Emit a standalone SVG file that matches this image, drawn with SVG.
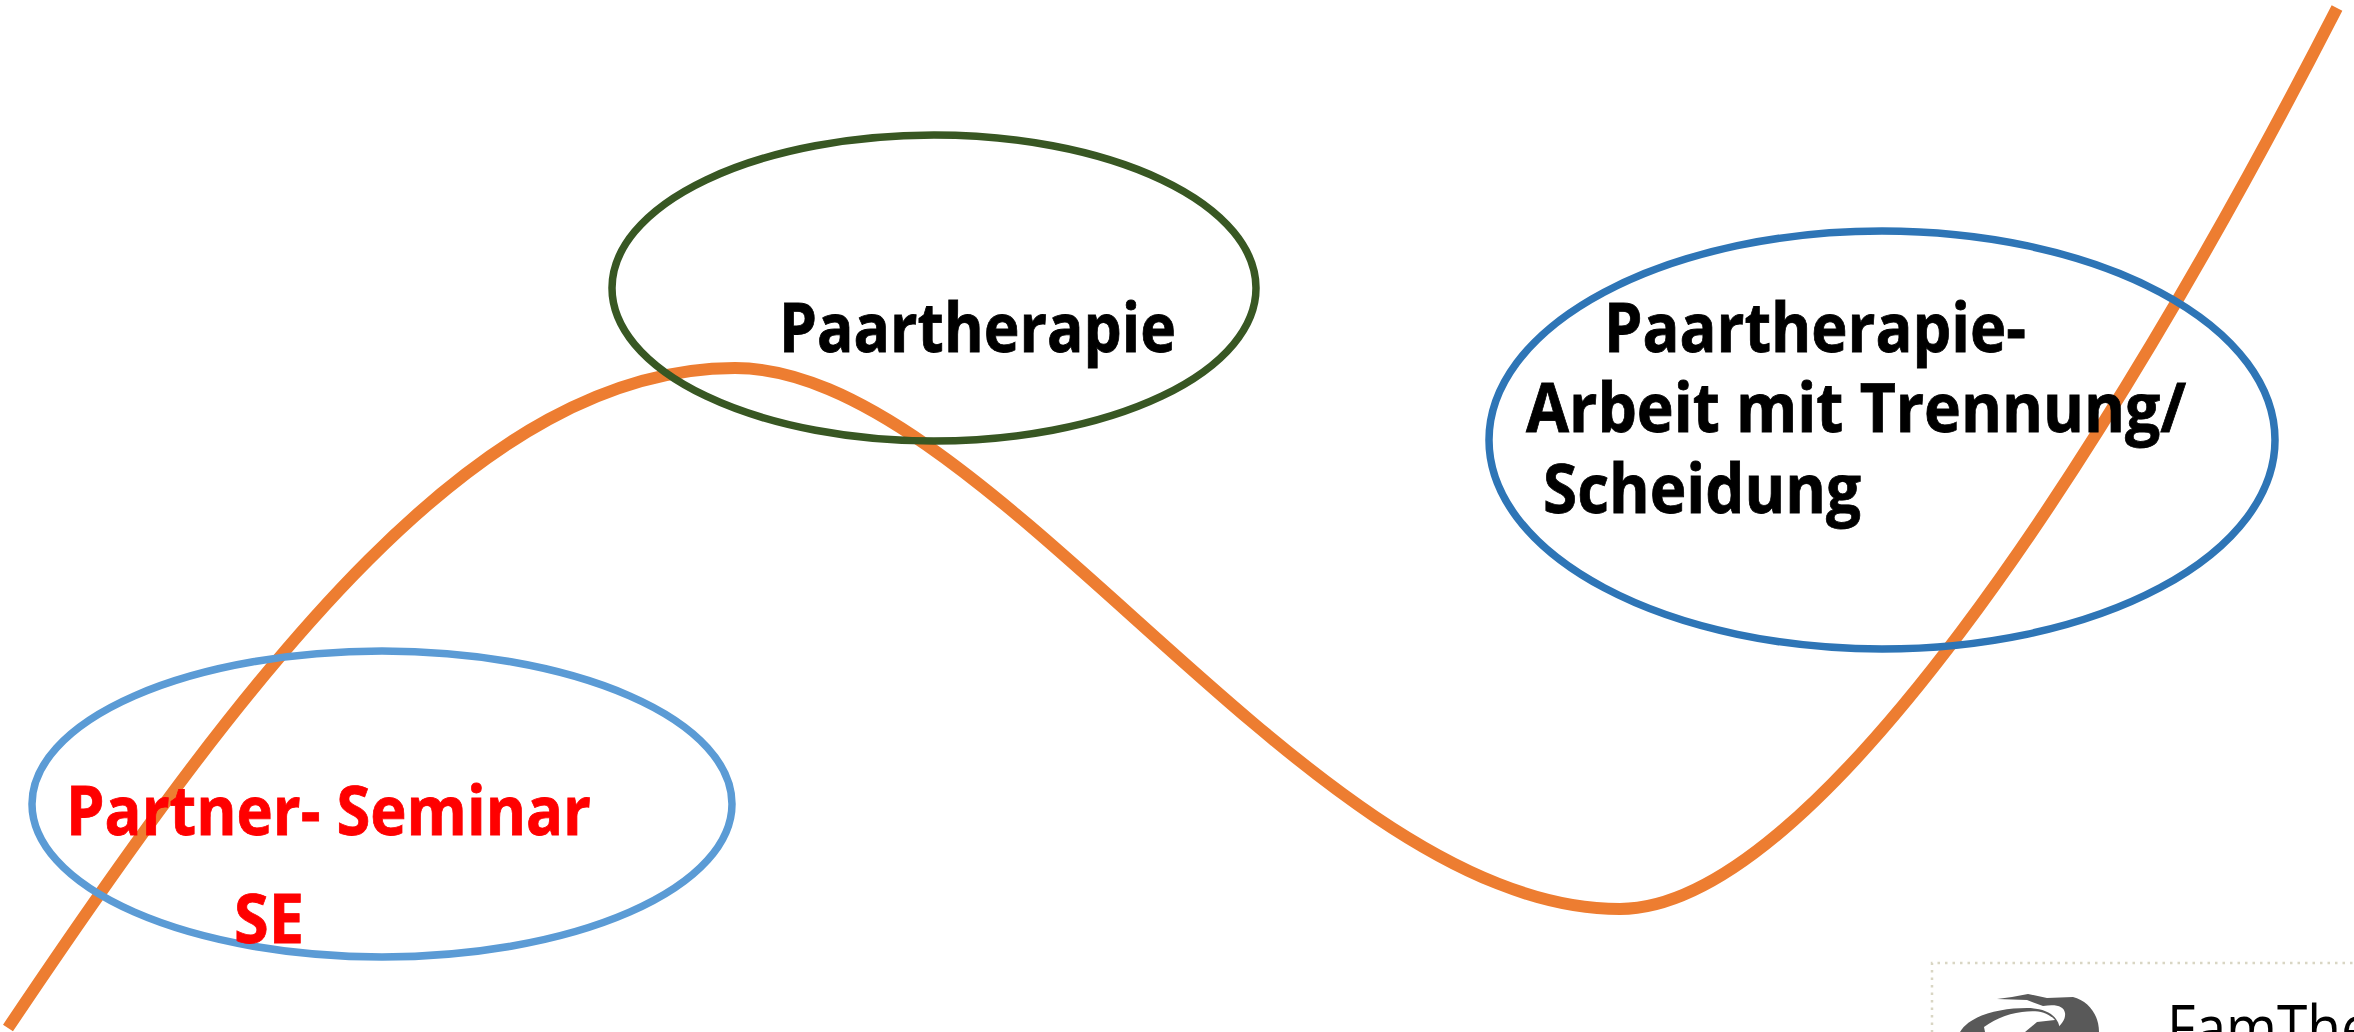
<svg xmlns="http://www.w3.org/2000/svg" width="2354" height="1032" viewBox="0 0 2354 1032">
<style>
.e{fill:none;stroke-width:7.5}
.t{font-family:"Open Sans","Noto Sans",sans-serif;font-weight:700;font-size:68px;fill:#000;stroke:#000;stroke-width:.8}
.r{fill:#f00;stroke:#f00}
.g{fill:#595959}
</style>
<rect width="2354" height="1032" fill="#fff"/>
<g id="connectors"><path d="M8 1028C255 660 480 368 735 368C990 368 1310 909 1620 909C1810 909 2100 470 2337 8" fill="none" stroke="#ED7D31" stroke-width="12"/></g>
<g id="node-partner"><ellipse class="e" cx="382" cy="804" rx="350" ry="153" stroke="#5B9BD5"/>
<text class="t r" x="66" y="835" textLength="525" lengthAdjust="spacingAndGlyphs">Partner- Seminar</text>
<text class="t r" x="234" y="943" textLength="70" lengthAdjust="spacingAndGlyphs">SE</text></g>
<g id="node-paartherapie"><ellipse class="e" cx="934" cy="288" rx="322" ry="153" stroke="#385723"/>
<text class="t" x="779" y="352" textLength="397" lengthAdjust="spacingAndGlyphs">Paartherapie</text></g>
<g id="node-trennung"><ellipse class="e" cx="1882" cy="440" rx="393" ry="209" stroke="#2E75B6"/>
<text class="t" x="1604" y="352" textLength="422" lengthAdjust="spacingAndGlyphs">Paartherapie-</text>
<text class="t" x="1526" y="432" textLength="660" lengthAdjust="spacingAndGlyphs">Arbeit mit Trennung/</text>
<text class="t" x="1543" y="513" textLength="318" lengthAdjust="spacingAndGlyphs">Scheidung</text></g>
<g id="node-logo">
<path d="M1932 1040V963H2360" fill="none" stroke="#d9d6c4" stroke-width="2.5" stroke-dasharray="2.5 5"/>
<path class="g" d="M1997 999L2012 997L2028 994L2047 998L2073 997C2088 1001 2099 1014 2099 1032H2053C2060 1026 2066 1020 2065 1013C2064 1006 2056 1004 2043 1006L2027 1000Z"/>
<path class="g" d="M1960 1032C1970 1015 2000 1008 2027 1008C2045 1008 2060 1015 2060 1032Z"/>
<path d="M1985 1032L1984 1027C1995 1019 2007 1014 2022 1012C2035 1010 2047 1011 2055 1020L2037 1022L2025 1032Z" fill="#fff"/>
<text x="2167" y="1050" font-family="'Open Sans',sans-serif" font-size="62" textLength="205" lengthAdjust="spacingAndGlyphs" fill="#000">FamThe</text>
</g>
</svg>
